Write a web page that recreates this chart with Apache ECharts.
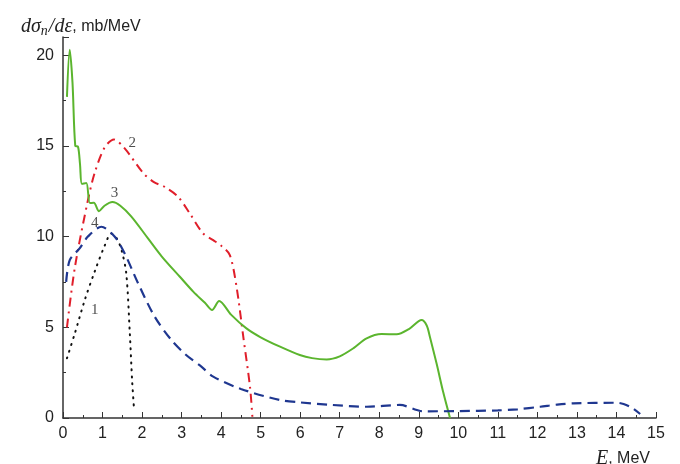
<!DOCTYPE html>
<html><head><meta charset="utf-8">
<script src="https://cdn.jsdelivr.net/npm/echarts@6/dist/echarts.min.js"></script>
<style>html,body{margin:0;padding:0;background:#fff}#c{width:680px;height:464px}</style>
</head><body><div id="c"></div>
<script>
// Curve 1 (black dotted)
const curve1 = [[0.1,3.29],[0.3,4.67],[0.55,6.5],[0.8,8.06],[1.06,9.53],[1.22,10.17],[1.36,9.9],[1.48,9.26],[1.6,7.97],[1.69,4.67],[1.75,2.0],[1.8,0.4]];
// Curve 2 (red dash-dot)
const curve2 = [[0.1,5.0],[0.3,8.3],[0.63,12.0],[0.8,13.5],[1.05,14.9],[1.29,15.35],[1.56,14.86],[2.03,13.5],[2.3,13.0],[2.57,12.74],[2.91,12.2],[3.2,11.3],[3.54,10.18],[3.8,9.8],[4.01,9.48],[4.22,8.98],[4.39,7.23],[4.56,4.48],[4.73,1.72],[4.79,0.07]];
// Curve 3 (green solid)
const curve3 = [[0.1,17.7],[0.17,20.3],[0.24,18.5],[0.31,15.0],[0.38,14.95],[0.43,14.0],[0.48,12.9],[0.59,12.95],[0.68,11.85],[0.78,11.86],[0.91,11.4],[1.05,11.7],[1.25,11.9],[1.45,11.7],[1.73,11.1],[2.15,9.9],[2.5,8.9],[2.95,7.8],[3.3,6.95],[3.59,6.35],[3.77,5.95],[3.95,6.45],[4.25,5.7],[4.64,4.94],[5.0,4.45],[5.49,3.93],[5.99,3.47],[6.3,3.3],[6.67,3.23],[7.0,3.4],[7.35,3.85],[7.68,4.39],[8.06,4.63],[8.44,4.61],[8.75,4.9],[9.07,5.4],[9.2,5.1],[9.28,4.48],[9.45,3.0],[9.62,1.4],[9.79,0.0]];
// Curve 4 (blue dashed)
const curve4 = [[0.08,7.5],[0.17,8.7],[0.42,9.35],[0.63,10.0],[0.97,10.54],[1.31,9.99],[1.56,9.07],[1.9,7.42],[2.32,5.58],[2.74,4.3],[3.1,3.5],[3.5,2.83],[3.8,2.28],[4.5,1.6],[5.49,0.99],[6.0,0.86],[6.8,0.72],[7.68,0.62],[8.52,0.72],[8.95,0.44],[9.1,0.37],[10.0,0.38],[11.0,0.42],[11.5,0.48],[12.07,0.62],[12.5,0.74],[12.91,0.81],[14.0,0.84],[14.18,0.77],[14.4,0.55],[14.6,0.22]];
// Curve labels
const labels = [["1",0.8,5.95],["2",1.75,15.15],["3",1.3,12.4],["4",0.8,10.75]];
const xTicks = [0,1,2,3,4,5,6,7,8,9,10,11,12,13,14,15];
const yTicks = [0,5,10,15,20];

const chart = echarts.init(document.getElementById('c'), null, {renderer:'canvas'});
const axisCol = '#333';
chart.setOption({
  animation:false,
  backgroundColor:'#fff',
  title:[
    {left:16, top:10, text:'{i|dσ}{s|n}{i|/dε}{t|, mb/MeV}',
     textStyle:{fontWeight:'normal',rich:{
       i:{fontFamily:'Liberation Serif',fontStyle:'italic',fontSize:20,color:'#222',fontWeight:'normal'},
       s:{fontFamily:'Liberation Serif',fontStyle:'italic',fontSize:14,color:'#222',fontWeight:'normal',verticalAlign:'bottom',padding:[9,1,0,0]},
       t:{fontFamily:'Liberation Sans',fontSize:16,color:'#222',fontWeight:'normal'}}}},
    {right:25, top:444, text:'{i|E}{t|, MeV}',
     textStyle:{fontWeight:'normal',rich:{
       i:{fontFamily:'Liberation Serif',fontStyle:'italic',fontSize:20,color:'#222',fontWeight:'normal'},
       t:{fontFamily:'Liberation Sans',fontSize:16,color:'#222',fontWeight:'normal'}}}}
  ],
  grid:{left:63, right:24, top:37, bottom:46, containLabel:false},
  xAxis:{type:'value', min:0, max:15, interval:1,
    axisLine:{lineStyle:{color:axisCol,width:1.5}},
    axisTick:{inside:true,length:6,lineStyle:{color:axisCol}},
    minorTick:{show:true,splitNumber:2,length:3,lineStyle:{color:axisCol}},
    splitLine:{show:false},
    axisLabel:{margin:8,fontFamily:'Liberation Sans',fontSize:16,color:'#222',
      formatter:v=>xTicks.includes(v)?String(v):''}},
  yAxis:{type:'value', min:0, max:21, interval:5,
    axisLine:{show:true,lineStyle:{color:axisCol,width:1.5}},
    axisTick:{show:true,inside:true,length:6,lineStyle:{color:axisCol}},
    minorTick:{show:true,splitNumber:2,length:3,lineStyle:{color:axisCol}},
    splitLine:{show:false},
    axisLabel:{margin:9,fontFamily:'Liberation Sans',fontSize:16,color:'#222',showMaxLabel:false,
      formatter:v=>yTicks.includes(v)?String(v):''}},
  series:[
    {type:'line', data:curve1, smooth:0.3, showSymbol:false, z:3,
      lineStyle:{color:'#111',width:2,type:[1,6],cap:'round'}},
    {type:'line', data:curve2, smooth:0.3, showSymbol:false, z:3,
      lineStyle:{color:'#e01e2a',width:2,type:[9,5,2,5]}},
    {type:'line', data:curve3, smooth:0.3, showSymbol:false, z:3,
      lineStyle:{color:'#5bb52e',width:2}},
    {type:'line', data:curve4, smooth:0.3, showSymbol:false, z:3,
      lineStyle:{color:'#1f3790',width:2.2,type:[10,6]}},
    {type:'scatter', symbolSize:0, z:5,
      data:labels.map(l=>({name:l[0],value:[l[1],l[2]]})),
      label:{show:true,position:'inside',formatter:p=>p.name,
        fontFamily:'Liberation Serif',fontSize:15,color:'#222'}}
  ]
});
</script></body></html>
